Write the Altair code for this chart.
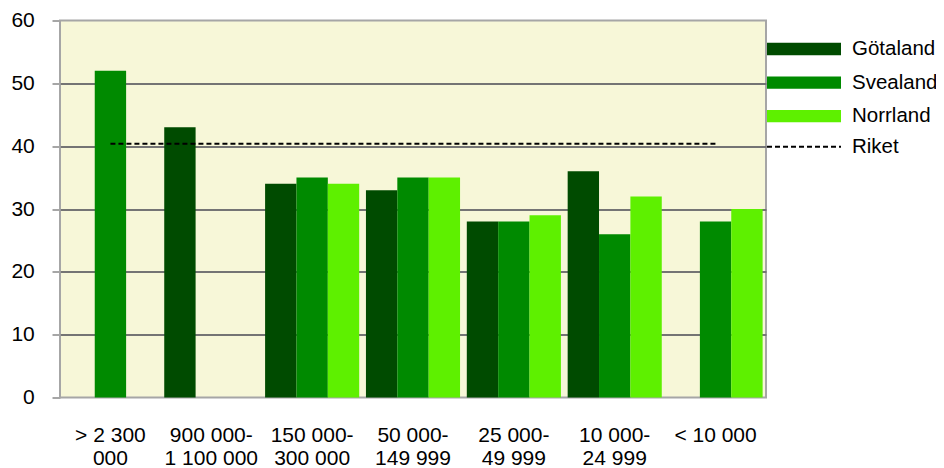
import altair as alt
import pandas as pd

categories = ["> 2 300\n000", "900 000-\n1 100 000", "150 000-\n300 000",
              "50 000-\n149 999", "25 000-\n49 999", "10 000-\n24 999", "< 10 000"]
series_names = ["Götaland", "Svealand", "Norrland"]
gotaland = [None, 43, 34, 33, 28, 36, None]
svealand = [52, None, 35, 35, 28, 26, 28]
norrland = [None, None, 34, 35, 29, 32, 30]
riket_value = 40.4
riket_label = "Riket"
colors = ["#004b00", "#008a00", "#5ef000"]
y_ticks = [0, 10, 20, 30, 40, 50, 60]

rows = []
for name, vals in zip(series_names, [gotaland, svealand, norrland]):
    for cat, v in zip(categories, vals):
        if v is not None:
            rows.append({"category": cat, "series": name, "value": v})
bars_df = pd.DataFrame(rows)
riket_df = pd.DataFrame([{"category": categories[0], "category_end": categories[-1],
                          "value": riket_value, "ref": riket_label}])

FONT = "Liberation Sans"

x_scale = alt.Scale(domain=categories, paddingInner=0.067, paddingOuter=0.0335)
y_scale = alt.Scale(domain=[0, 60], nice=False)

x_axis = alt.Axis(title=None, labelAngle=0, ticks=False, tickSize=0, domain=False,
                  labelFontSize=21, labelFont=FONT, labelColor="black",
                  labelLineHeight=23, labelPadding=27, labelOverlap=False,
                  labelExpr="split(datum.label, '\\n')", grid=False)
y_axis = alt.Axis(title=None, values=y_ticks, grid=True,
                  gridColor={"condition": {"test": "datum.value === 0 || datum.value === 60",
                                           "value": "transparent"},
                             "value": "#747474"},
                  gridWidth=2, domain=False, ticks=True, tickSize=8,
                  tickColor="#a6a6a6", tickWidth=2, labelFontSize=21,
                  labelFont=FONT, labelColor="black", labelPadding=17.7)

bars = alt.Chart(bars_df).mark_bar().encode(
    x=alt.X("category:N", scale=x_scale, sort=categories, axis=x_axis),
    xOffset=alt.XOffset("series:N", scale=alt.Scale(domain=series_names), sort=series_names),
    y=alt.Y("value:Q", scale=y_scale, axis=y_axis),
    color=alt.Color("series:N", scale=alt.Scale(domain=series_names, range=colors),
                    legend=alt.Legend(title=None, orient="none", legendX=707, legendY=18.5,
                                      symbolType="M-1,-0.166L1,-0.166L1,0.166L-1,0.166Z",
                                      symbolSize=5476, symbolStrokeWidth=0,
                                      clipHeight=20, rowPadding=12.6, padding=0,
                                      labelFontSize=20.5, labelFont=FONT, labelColor="black",
                                      labelOffset=11)),
)

rule = alt.Chart(riket_df).mark_rule(color="black", strokeWidth=2).encode(
    x=alt.X("category:N", bandPosition=0.5),
    x2=alt.X2("category_end:N", bandPosition=0.5),
    y=alt.Y("value:Q"),
    strokeDash=alt.StrokeDash("ref:N", scale=alt.Scale(domain=[riket_label], range=[[5, 3]]),
                              legend=alt.Legend(title=None, orient="none", legendX=706, legendY=116.2,
                                                symbolType="stroke", symbolSize=5476,
                                                symbolStrokeWidth=2, symbolStrokeColor="black",
                                                clipHeight=20, padding=0,
                                                labelFontSize=20.5, labelFont=FONT, labelColor="black",
                                                labelOffset=10)),
)

chart = alt.layer(bars, rule).properties(
    width=706, height=377,
    autosize=alt.AutoSizeParams(type="none"),
    padding={"left": 52, "top": 12.5, "right": 170, "bottom": 70},
).configure_view(fill="#f7f7d8", stroke="#a6a6a6", strokeWidth=2)

chart.save("out.html", embed_options={"renderer": "svg", "actions": False})
